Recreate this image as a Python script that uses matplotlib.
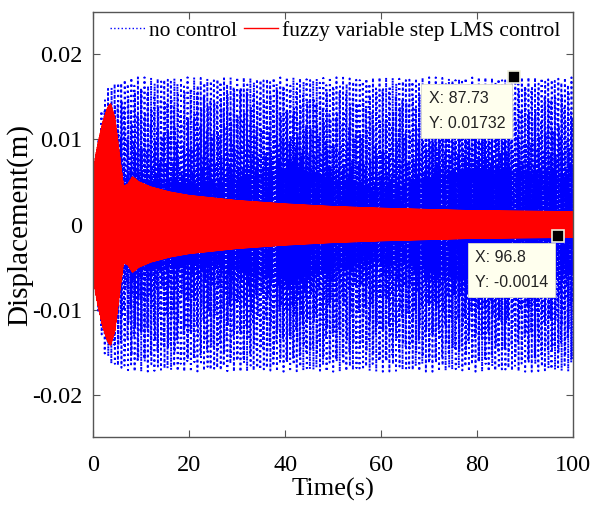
import numpy as np
import matplotlib
matplotlib.use("Agg")
import matplotlib.pyplot as plt

plt.rcParams['font.family'] = ['Liberation Serif', 'DejaVu Serif']

# Envelope of the uncontrolled response (outer peak and dense inner band), in m
blue_t = [0, 0.5, 1, 2, 3, 4, 6, 8, 15, 25, 35, 41, 48, 57, 65, 73, 80, 88, 95, 100]
blue_outer = [0.0, 0.006, 0.010, 0.0147, 0.016, 0.0167, 0.0171, 0.0173, 0.0173, 0.0173,
              0.0173, 0.0173, 0.0173, 0.0173, 0.0173, 0.0173, 0.0173, 0.0173, 0.0173, 0.0173]
blue_core = [0.0, 0.003, 0.004, 0.0045, 0.0045, 0.0045, 0.0048, 0.005, 0.0048, 0.0047,
             0.0058, 0.0066, 0.0055, 0.0043, 0.0046, 0.0058, 0.0064, 0.0062, 0.0058, 0.0056]

# Envelope of the response with fuzzy variable step LMS control, in m
red_t = [0, 0.5, 1, 2, 3, 3.6, 4.5, 5.5, 6.3, 7.2, 8.2, 9.5, 12, 16, 20, 30, 40, 50, 60, 80, 100]
red_amp = [0.006, 0.008, 0.0095, 0.012, 0.0137, 0.0142, 0.0125, 0.008, 0.0045, 0.0047,
           0.0056, 0.005, 0.0044, 0.0038, 0.0034, 0.0028, 0.0024, 0.0021, 0.0019, 0.0016, 0.0015]

f_exc = 9.47      # excitation frequency, Hz
beat_period = 0.69  # s between the tallest swings of the free response

tip_points = [(87.73, 0.01732), (96.8, -0.0014)]
tip_labels = ['X: 87.73\nY: 0.01732', 'X: 96.8\nY: -0.0014']
tip_boxes = [(69.9, 0.0157), (79.6, -0.0030)]

t = np.linspace(0, 100, 200001)
outer = np.interp(t, blue_t, blue_outer)
core = np.interp(t, blue_t, blue_core)
beat = np.abs(np.sin(np.pi * t / beat_period)) ** 4
x_free = (core + (outer - core) * beat) * np.sin(2 * np.pi * f_exc * t)
x_ctrl = np.interp(t, red_t, red_amp) * np.sin(2 * np.pi * f_exc * t)

fig = plt.figure(figsize=(5.9, 5.12), dpi=100)
ax = fig.add_axes([0.158, 0.146, 0.813, 0.831])

ax.plot(t, x_free, ':', color='blue', lw=1.4, label='no control')
ax.plot(t, x_ctrl, '-', color='red', lw=1.0, label='fuzzy variable step LMS control')

ax.set_xlim(0, 100)
ax.set_ylim(-0.025, 0.025)
ax.set_xticks([0, 20, 40, 60, 80, 100])
ax.set_yticks([-0.02, -0.01, 0, 0.01, 0.02])
ax.set_yticklabels(['-0.02', '-0.01', '0', '0.01', '0.02'])
ax.tick_params(direction='in', top=True, right=True, labelsize=17.5, length=5,
               color='#555555')
ax.tick_params(axis='x', pad=13)
ax.tick_params(axis='y', pad=8)
for s in ax.spines.values():
    s.set_color('#555555')
    s.set_linewidth(1.0)

ax.set_xlabel('Time(s)', fontsize=19, labelpad=1)
ax.set_ylabel('Displacement(m)', fontsize=21)
ax.yaxis.set_label_coords(-0.125, 0.5)

leg = ax.legend(loc='upper center', ncol=2, frameon=False, fontsize=15.5,
                handlelength=1.6, handletextpad=0.18, columnspacing=0.33,
                bbox_to_anchor=(0.505, 1.025))
leg.get_lines()[0].set_linewidth(1.0)

# data tips
for (px, py), lab, (bx, by) in zip(tip_points, tip_labels, tip_boxes):
    ax.text(bx, by, lab, ha='left', va='top', fontsize=11.5, family='Liberation Sans',
            linespacing=1.8, color='#222222', zorder=5,
            bbox=dict(boxstyle='square,pad=0.45', fc='#FFFFEE', ec='#DDDDCC', lw=0.6))
    ax.plot(px, py, 's', ms=9, mfc='black', mec='#EEEEDD', mew=1.2, zorder=6)

fig.savefig('out.png', dpi=100)
